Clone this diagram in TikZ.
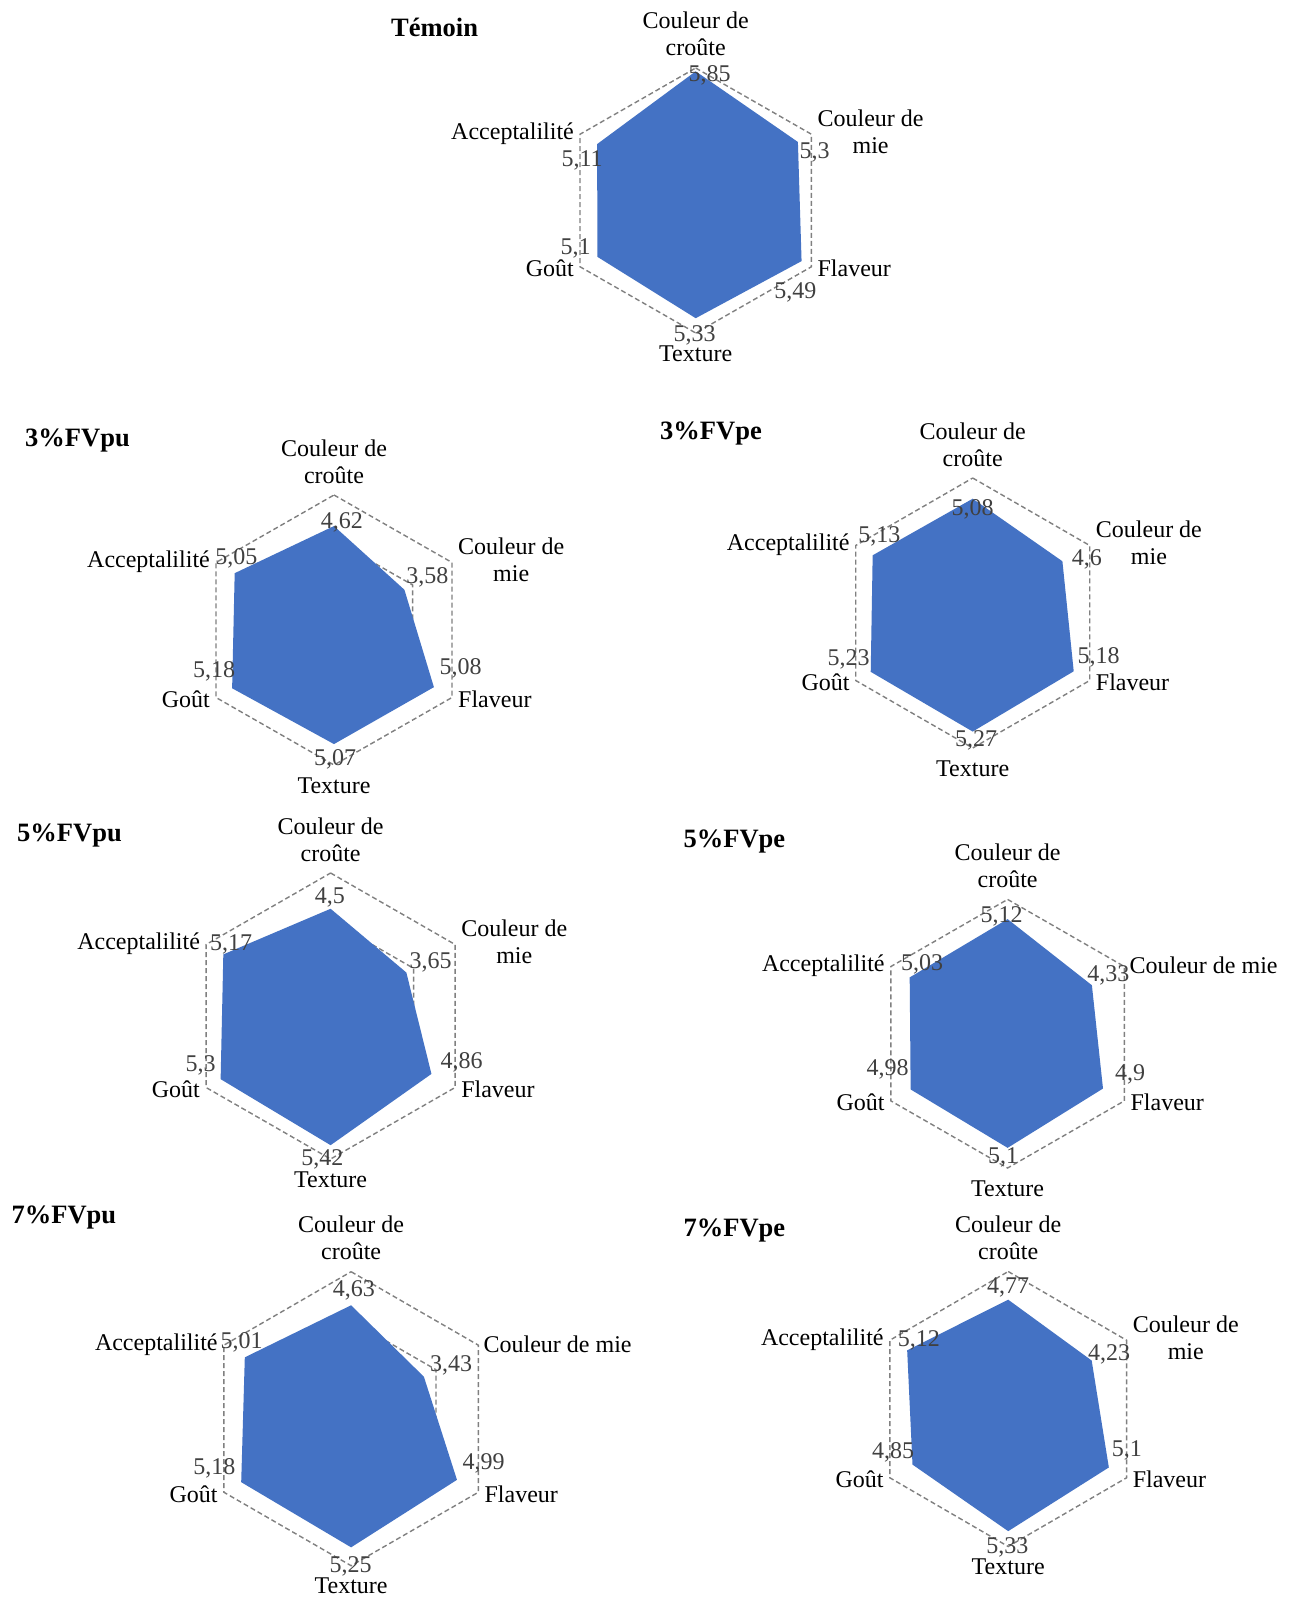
\documentclass[tikz,border=0pt]{standalone}
\usepackage{fontspec}
\setmainfont{Liberation Serif}

\definecolor{seriesblue}{HTML}{4472C4}
\definecolor{gridgray}{HTML}{808080}
\definecolor{valuegray}{HTML}{404040}

\newcommand\catfont{\fontsize{24}{27}\selectfont}
\newcommand\valfont{\fontsize{24}{27}\selectfont}
\newcommand\ttlfont{\fontsize{26.5}{30}\selectfont\bfseries}

% current chart: name prefix, centre, half width, radius
\newcommand\setchart[5]{\def\pfx{#1}\def\cx{#2}\def\cy{#3}\def\hw{#4}\def\rr{#5}}
\newcommand\twolines[2]{\begin{tabular}[b]{@{}c@{}}#1\\#2\end{tabular}}

% dashed hexagonal gridline at a fraction of the full scale (0--6)
\newcommand\gridhex[1]{%
  \draw[gridline] (\cx,{\cy-\rr*#1}) -- ({\cx+\hw*#1},{\cy-\rr*#1/2})
    -- ({\cx+\hw*#1},{\cy+\rr*#1/2}) -- (\cx,{\cy+\rr*#1})
    -- ({\cx-\hw*#1},{\cy+\rr*#1/2}) -- ({\cx-\hw*#1},{\cy-\rr*#1/2}) -- cycle;}
\newcommand\gridall{\gridhex{0.3333}\gridhex{0.6667}\gridhex{1}}

% filled series polygon, values on a 0--6 scale
\newcommand\seriespoly[6]{%
  \fill[seriesblue] (\cx,{\cy-\rr*#1/6}) -- ({\cx+\hw*#2/6},{\cy-\rr*#2/12})
    -- ({\cx+\hw*#3/6},{\cy+\rr*#3/12}) -- (\cx,{\cy+\rr*#4/6})
    -- ({\cx-\hw*#5/6},{\cy+\rr*#5/12}) -- ({\cx-\hw*#6/6},{\cy-\rr*#6/12}) -- cycle;}

% axis names around the hexagon; #1 draws the "Couleur de mie" label
\newcommand\catlabels[1]{%
  \node[catlbl,anchor=base] (\pfx-crust) at (\cx,{\cy-\rr-12}) {\twolines{Couleur de}{croûte}};
  #1
  \node[catlbl,anchor=base west] (\pfx-flav) at ({\cx+\hw+6},{\cy+\rr/2+10}) {Flaveur};
  \node[catlbl,anchor=base] (\pfx-text) at (\cx,{\cy+\rr+28}) {Texture};
  \node[catlbl,anchor=base east] (\pfx-gout) at ({\cx-\hw-6},{\cy+\rr/2+10}) {Goût};
  \node[catlbl,anchor=base east] (\pfx-acc) at ({\cx-\hw-6},{\cy-\rr/2+5}) {Acceptalilité};}
\newcommand\miesplit{\node[catlbl,anchor=base west] (\pfx-mie) at ({\cx+\hw+6},{\cy-\rr/2+19}) {\twolines{Couleur de}{mie}};}
\newcommand\mieline{\node[catlbl,anchor=base west] (\pfx-mie) at ({\cx+\hw+5},{\cy-\rr/2+7}) {Couleur de mie};}

% value label: name suffix, x, baseline y, text
\newcommand\val[4]{\node[vallbl] (\pfx-v#1) at (#2,#3) {#4};}
% chart title: left x, baseline y, text
\newcommand\charttitle[3]{\node[ttl] (\pfx-title) at (#1,#2) {#3};}

\begin{document}
\begin{tikzpicture}[x=1pt,y=-1pt,
  gridline/.style={draw=gridgray,line width=1.4pt,dash pattern=on 5pt off 3pt},
  catlbl/.style={inner sep=0pt,font=\catfont,text=black},
  vallbl/.style={inner sep=0pt,anchor=base,font=\valfont,text=valuegray},
  ttl/.style={inner sep=0pt,anchor=base west,font=\ttlfont,text=black}]
\useasboundingbox (0,0) rectangle (1288,1600);
\fill[white] (0,0) rectangle (1288,1600);

% ---- Témoin ----
\setchart{tem}{695.7}{200.5}{115.7}{132.5}
\gridall
\seriespoly{5.85}{5.3}{5.49}{5.33}{5.1}{5.11}
\val{1}{709.6}{81.7}{5,85}
\val{2}{814.6}{158.3}{5,3}
\val{3}{795.3}{298.3}{5,49}
\val{4}{694.6}{341.7}{5,33}
\val{5}{575.7}{254}{5,1}
\val{6}{582.1}{166.7}{5,11}
\catlabels{\miesplit}
\charttitle{391}{37}{Témoin}

% ---- 3%FVpu ----
\setchart{pu3}{334}{630}{118}{135}
\gridall
\seriespoly{4.62}{3.58}{5.08}{5.07}{5.18}{5.05}
\val{1}{341.8}{528.3}{4,62}
\val{2}{427.3}{583.3}{3,58}
\val{3}{460.6}{674.3}{5,08}
\val{4}{335.2}{765.7}{5,07}
\val{5}{214.2}{677.7}{5,18}
\val{6}{236.4}{564.3}{5,05}
\catlabels{\miesplit}
\charttitle{25}{446}{3\%FVpu}

% ---- 3%FVpe ----
\setchart{pe3}{972.7}{613}{117}{135}
\gridall
\seriespoly{5.08}{4.6}{5.18}{5.27}{5.23}{5.13}
\val{1}{972.6}{515}{5,08}
\val{2}{1086.9}{565}{4,6}
\val{3}{1098.7}{663.3}{5,18}
\val{4}{976}{746.7}{5,27}
\val{5}{848.6}{665}{5,23}
\val{6}{879.3}{542.7}{5,13}
\catlabels{\miesplit}
\charttitle{660}{439}{3\%FVpe}

% ---- 5%FVpu ----
\setchart{pu5}{330.6}{1016}{124.5}{143}
\gridall
\seriespoly{4.5}{3.65}{4.86}{5.42}{5.3}{5.17}
\val{1}{329.8}{903.3}{4,5}
\val{2}{430.7}{968.3}{3,65}
\val{3}{461.6}{1068.3}{4,86}
\val{4}{322.4}{1165}{5,42}
\val{5}{200.5}{1071.7}{5,3}
\val{6}{231.2}{950}{5,17}
\catlabels{\miesplit}
\charttitle{17}{841.7}{5\%FVpu}

% ---- 5%FVpe ----
\setchart{pe5}{1007.6}{1033.7}{116.8}{134.3}
\gridall
\seriespoly{5.12}{4.33}{4.9}{5.1}{4.98}{5.03}
\val{1}{1001.6}{922.7}{5,12}
\val{2}{1108.3}{981.7}{4,33}
\val{3}{1130.1}{1080}{4,9}
\val{4}{1003.2}{1163.3}{5,1}
\val{5}{887.6}{1075}{4,98}
\val{6}{922}{970.7}{5,03}
\catlabels{\mieline}
\charttitle{683.4}{847.7}{5\%FVpe}

% ---- 7%FVpu ----
\setchart{pu7}{351.1}{1418.7}{127.3}{147}
\gridall
\seriespoly{4.63}{3.43}{4.99}{5.25}{5.18}{5.01}
\val{1}{353.9}{1296.7}{4,63}
\val{2}{451}{1371.7}{3,43}
\val{3}{483.7}{1469.3}{4,99}
\val{4}{350.6}{1572.7}{5,25}
\val{5}{214.3}{1474}{5,18}
\val{6}{241.5}{1348.3}{5,01}
\catlabels{\mieline}
\charttitle{11.4}{1223}{7\%FVpu}

% ---- 7%FVpe ----
\setchart{pe7}{1008.2}{1409}{118.4}{137.5}
\gridall
\seriespoly{4.77}{4.23}{5.1}{5.33}{4.85}{5.12}
\val{1}{1008.2}{1293.3}{4,77}
\val{2}{1109}{1360}{4,23}
\val{3}{1126.8}{1456.7}{5,1}
\val{4}{1007.3}{1553.3}{5,33}
\val{5}{893.1}{1458.3}{4,85}
\val{6}{918.9}{1346.7}{5,12}
\catlabels{\miesplit}
\charttitle{683.4}{1236.7}{7\%FVpe}
\end{tikzpicture}
\end{document}
